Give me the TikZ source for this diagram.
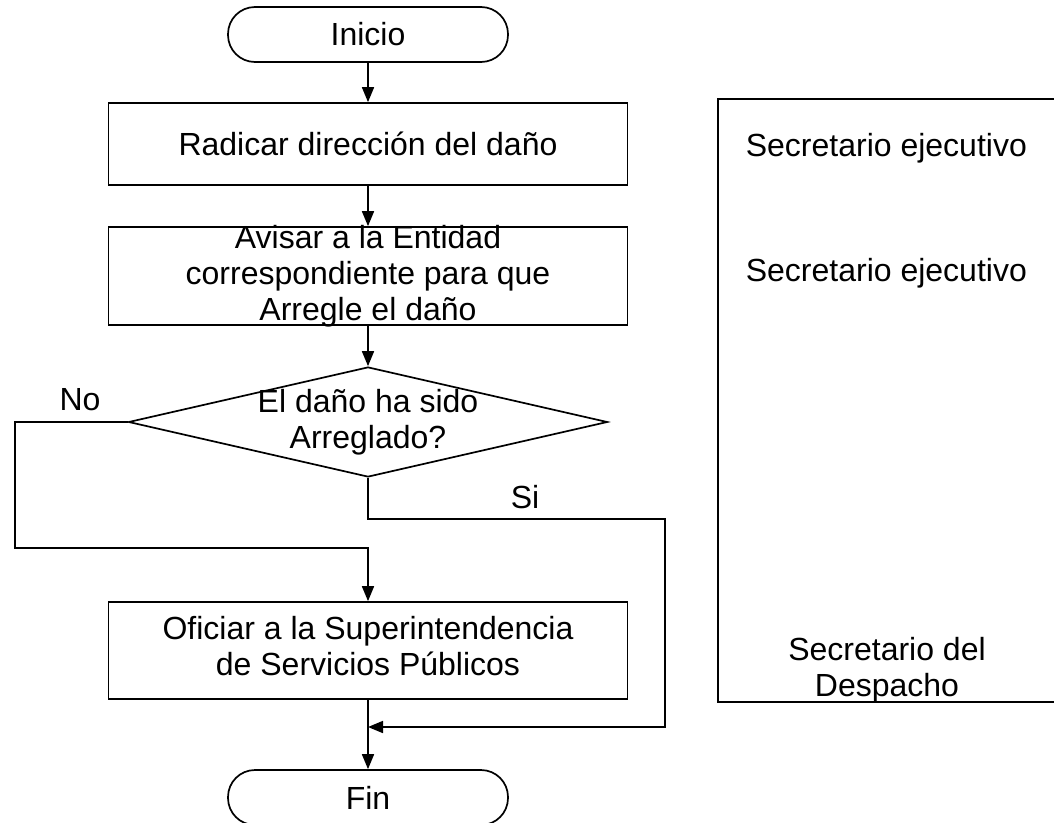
\documentclass[tikz,border=0pt]{standalone}
\usepackage{fontspec}
\setmainfont{Liberation Sans}
\usepackage{tikz}
\usetikzlibrary{arrows.meta}
\usetikzlibrary{shapes.geometric}

\begin{document}
\begin{tikzpicture}[x=1pt,y=-1pt,line width=1.7pt,
    every node/.style={font=\fontsize{32}{36}\selectfont,inner sep=0pt},
    term/.style={draw,rectangle,rounded corners=27pt,minimum width=280pt,minimum height=55pt},
    proc/.style={draw,rectangle,minimum width=519pt},
    decide/.style={draw,diamond,minimum width=479pt,minimum height=110pt,aspect=4.35},
    txt/.style={align=center},
    arr/.style={-{Triangle[length=15pt,width=12pt]}}]
    \useasboundingbox (0,0) rectangle (1054,822);

    % flujo principal
    \node[term] (inicio) at (368,34.5) {Inicio};
    \node[proc,minimum height=82pt] (radicar) at (368,144) {Radicar direcci\'on del da\~no};
    \node[proc,minimum height=98pt] (avisar) at (368,276) {};
    \node[txt] (avisartxt) at (avisar.center)
      {Avisar a la Entidad\\correspondiente para que\\Arregle el da\~no};
    \node[decide] (decision) at (368,422) {};
    \node[txt] (decisiontxt) at (decision.center) {El da\~no ha sido\\Arreglado?};
    \node[proc,minimum height=97pt] (oficiar) at (368,650.5)
      {\begin{tabular}{@{}c@{}}Oficiar a la Superintendencia\\de Servicios P\'ublicos\end{tabular}};
    \node[term] (fin) at (368,797.5) {Fin};

    \coordinate (nojoin) at (368,548);
    \coordinate (sijoin) at (368,727);

    \draw[arr] (inicio) -- (radicar);
    \draw[arr] (radicar) -- (avisar);
    \draw[arr] (avisar) -- (decision);
    \draw[arr] (decision.west) -- ++(-113,0) |- (nojoin) -- (oficiar);
    \draw[arr] (decision.south) -- ++(0,41) -| (665,727) -- (sijoin);
    \draw[arr] (oficiar) -- (fin);
    \node (nolbl) at (80,400) {No};
    \node (silbl) at (525,497) {Si};

    % responsables
    \draw (1054,99) -- (718,99) -- (718,702) -- (1054,702);
    \node[anchor=west] (resp1) at (745,148) {Secretario ejecutivo};
    \node[anchor=west] (resp2) at (745,273) {Secretario ejecutivo};
    \node[txt] (resp3) at (887,670) {Secretario del\\Despacho};
\end{tikzpicture}
\end{document}
